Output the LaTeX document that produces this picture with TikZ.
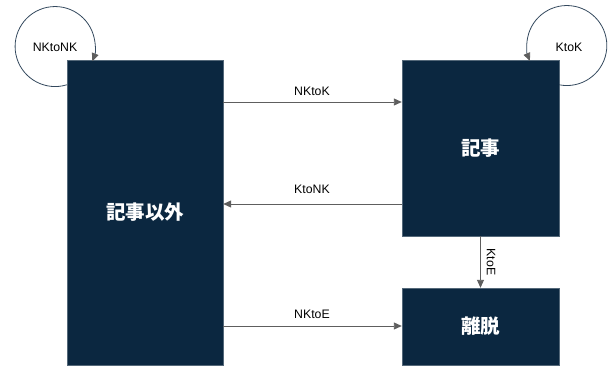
\documentclass[tikz,border=0pt]{standalone}
\usepackage{fontspec}
\setmainfont{Liberation Sans}
\newfontfamily\cjk{Noto Sans CJK JP}
\usetikzlibrary{arrows.meta}
\definecolor{boxnavy}{HTML}{0B2740}
\definecolor{arrowgray}{HTML}{5E5E5E}
\definecolor{loopline}{HTML}{34495E}
\tikzset{
  statebox/.style={fill=boxnavy, draw=boxnavy!70!white, line width=0.4pt, inner sep=0pt, text=white,
    font=\cjk\bfseries\fontsize{19.5}{22}\selectfont},
  flow/.style={draw=arrowgray, line width=0.9pt, -{Triangle[length=8pt,width=7pt,fill=arrowgray]}},
  loopflow/.style={draw=loopline, line width=0.8pt, -{Triangle[length=8pt,width=7pt,fill=arrowgray,color=arrowgray]}},
  lbl/.style={font=\fontsize{12.3}{14}\selectfont, text=black, inner sep=1pt}
}
\begin{document}
\begin{tikzpicture}[x=1pt,y=1pt]
\useasboundingbox (0,0) rectangle (611,-367);
\node[statebox, minimum width=156pt, minimum height=305pt] (nk) at (145,-212.5) {記事以外};
\node[statebox, minimum width=157pt, minimum height=176pt] (k) at (480.5,-148) {記事};
\node[statebox, minimum width=157pt, minimum height=77pt] (e) at (480.5,-326.5) {離脱};

% transitions
\draw[flow] (nk.east |- 0,-102) -- (k.west |- 0,-102);
\node[lbl] (lnk2k) at (312,-91) {NKtoK};
\draw[flow] (k.west |- 0,-204) -- (nk.east |- 0,-204);
\node[lbl] (lk2nk) at (312,-189) {KtoNK};
\draw[flow] (nk.east |- 0,-326) -- (e.west |- 0,-326);
\node[lbl] (lnk2e) at (312,-314) {NKtoE};
\draw[flow] (k.south) -- (e.north);
\node[lbl, rotate=-90] (lk2e) at (491,-262) {KtoE};

% self loops
\coordinate (nkloop) at ([yshift=-25pt]nk.north west);
\draw[loopflow] (nkloop) arc[start angle=-73, end angle=-381.5, radius=40];
\node[lbl] (lnk2nk) at (55,-47) {NKtoNK};
\coordinate (kloop) at ([yshift=-25pt]k.north east);
\draw[loopflow] (kloop) arc[start angle=-101, end angle=202.6, radius=40];
\node[lbl] (lk2k) at (569,-47) {KtoK};
\end{tikzpicture}
\end{document}
